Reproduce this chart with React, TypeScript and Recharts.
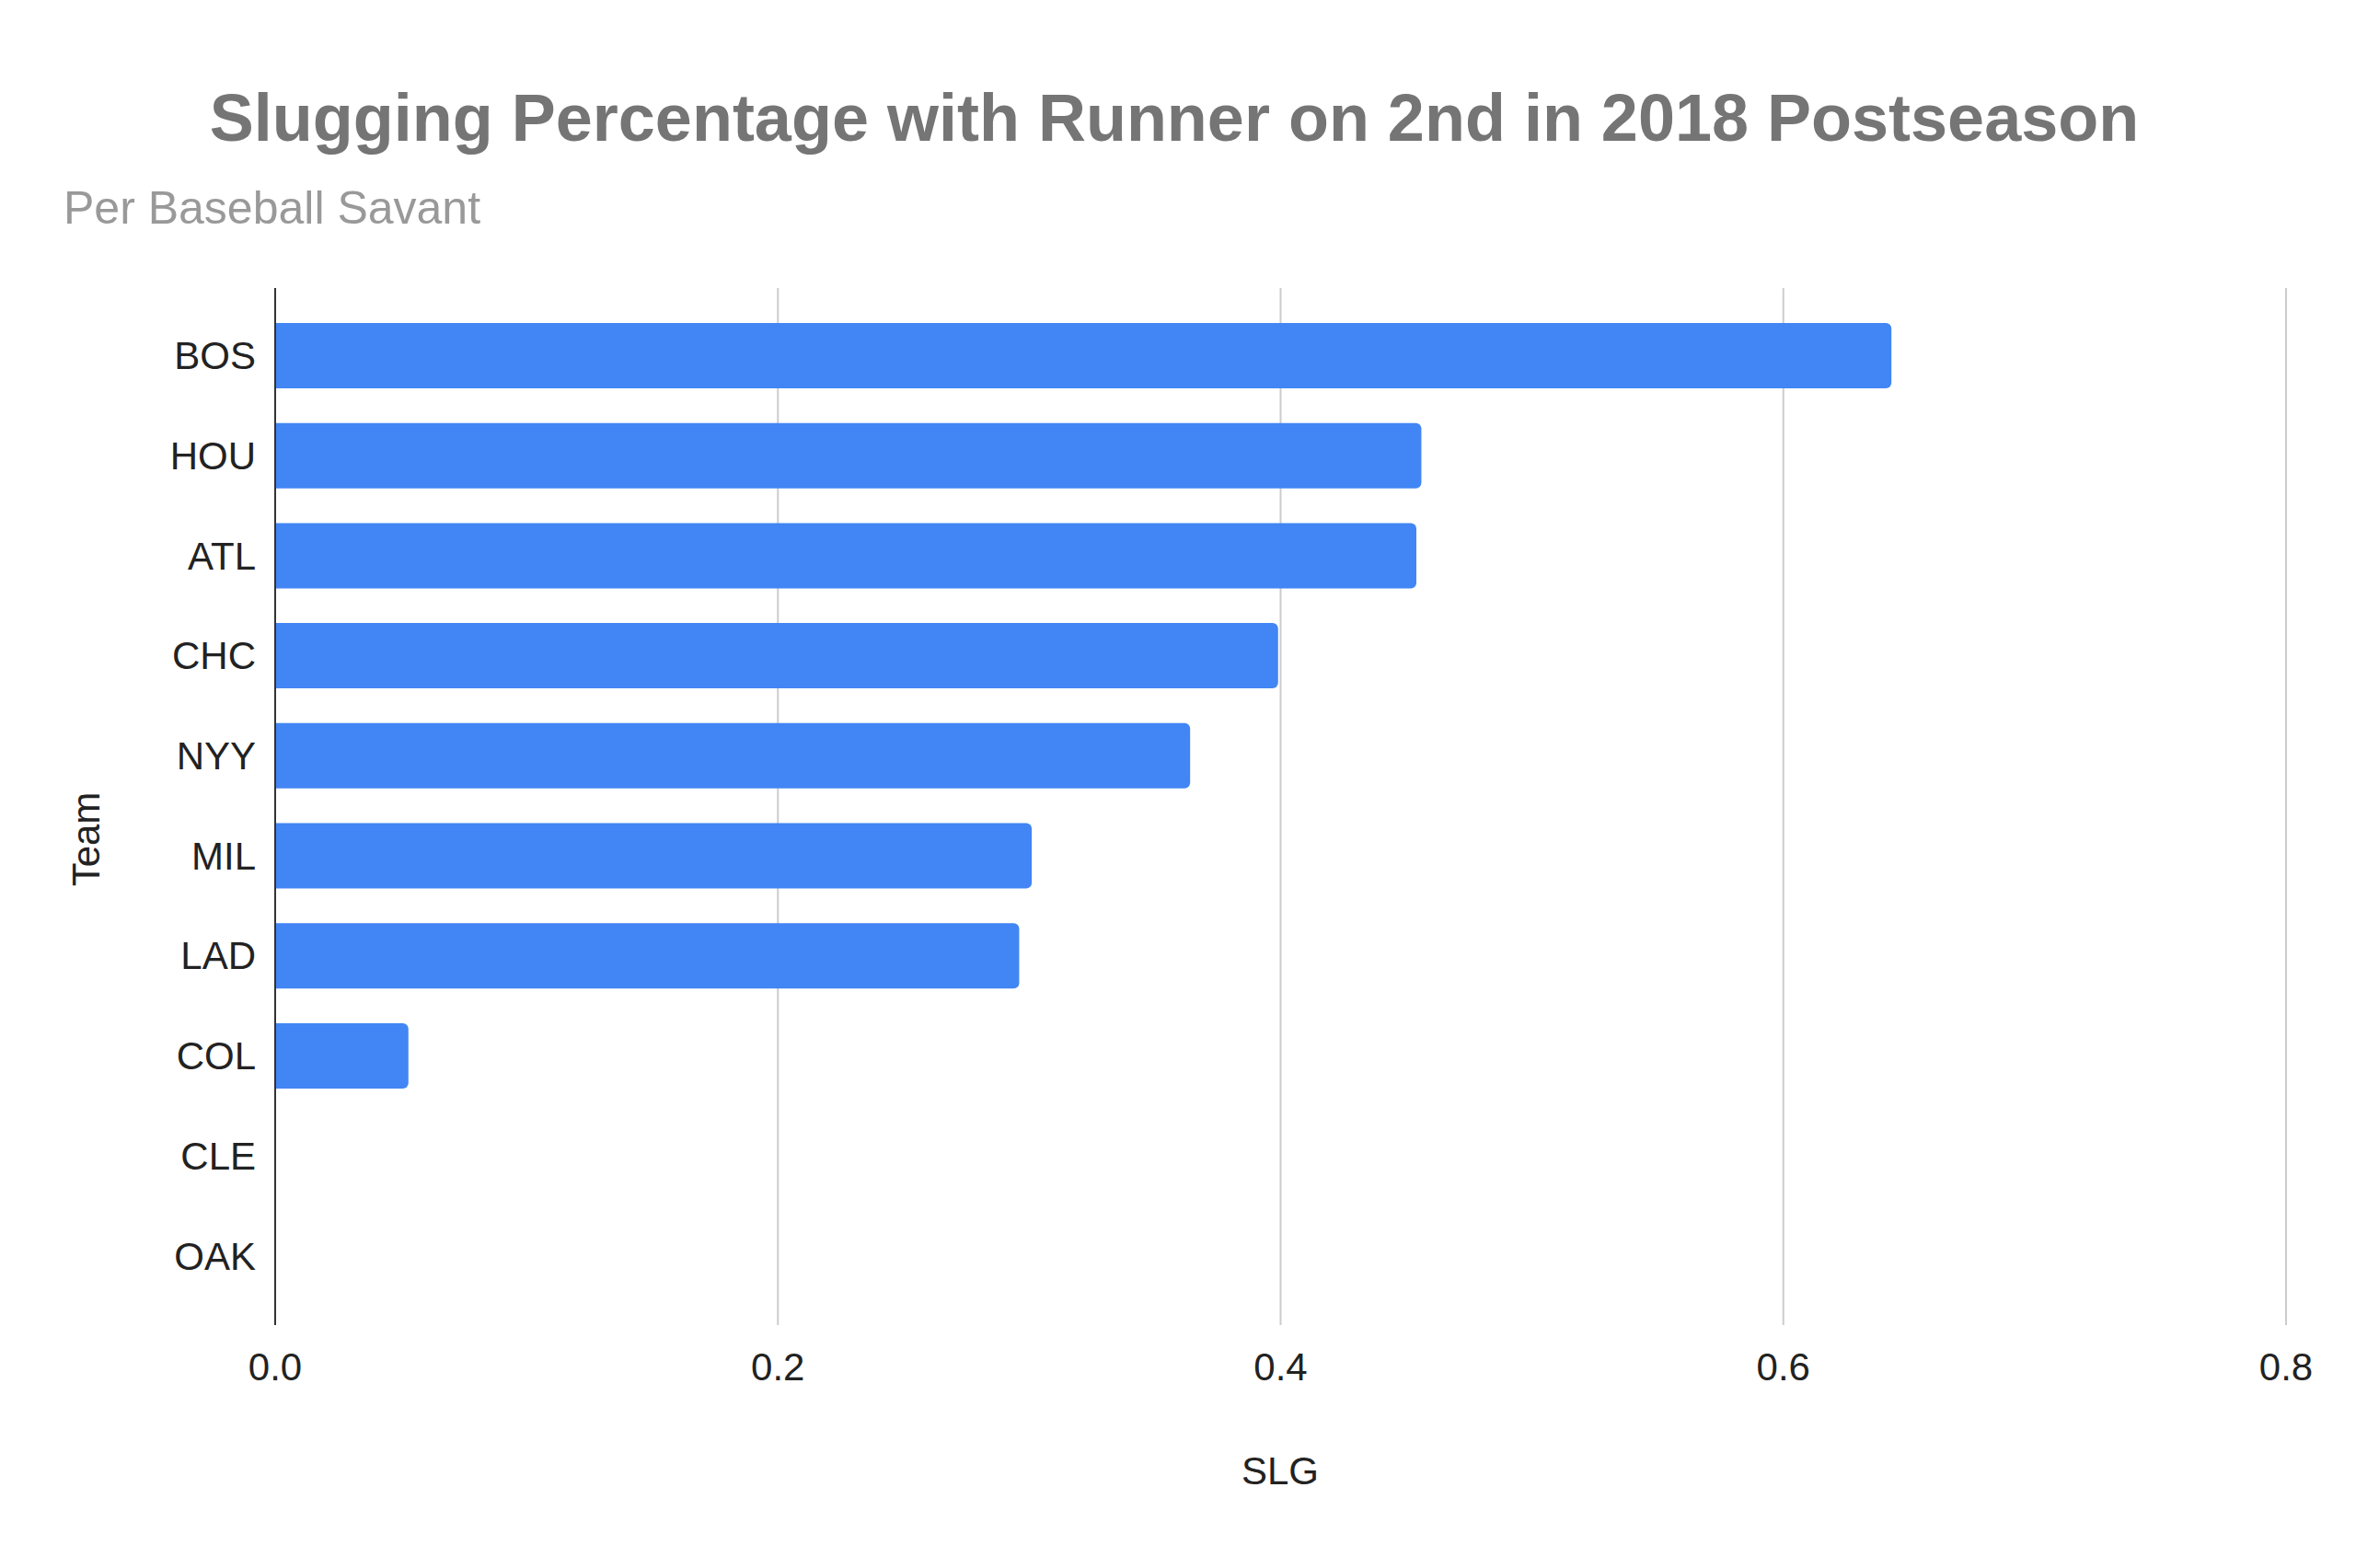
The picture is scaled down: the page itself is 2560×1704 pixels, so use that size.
import React from 'react';
import { BarChart, Bar, XAxis, YAxis, CartesianGrid } from 'recharts';

const teams = ['BOS', 'HOU', 'ATL', 'CHC', 'NYY', 'MIL', 'LAD', 'COL', 'CLE', 'OAK'];
const slgValues = [0.643, 0.456, 0.454, 0.399, 0.364, 0.301, 0.296, 0.053, 0, 0];
const xTicks = [0, 0.2, 0.4, 0.6, 0.8];

const titleText = 'Slugging Percentage with Runner on 2nd in 2018 Postseason';
const subtitleText = 'Per Baseball Savant';
const xAxisTitle = 'SLG';
const yAxisTitle = 'Team';

const FONT = "Arial, 'Liberation Sans', Helvetica, sans-serif";

const data = teams.map((team, i) => ({ team, slg: slgValues[i] }));

const renderXTitle = () => (
  <text x={1391} y={1613} textAnchor="middle" fontSize={42} fill="#222222" fontFamily={FONT}>
    {xAxisTitle}
  </text>
);

const renderYTitle = () => (
  <text
    x={108}
    y={912}
    transform="rotate(-90, 108, 912)"
    textAnchor="middle"
    fontSize={42}
    fill="#222222"
    fontFamily={FONT}
  >
    {yAxisTitle}
  </text>
);

export default function App() {
  return (
    <div style={{ position: 'absolute', left: 0, top: 0, width: 2560, height: 1704, background: '#ffffff' }}>
      <BarChart
        width={2560}
        height={1704}
        data={data}
        layout="vertical"
        margin={{ top: 313, right: 76, left: 0, bottom: 86 }}
      >
        <CartesianGrid horizontal={false} stroke="#cccccc" strokeWidth={2} />
        <XAxis
          type="number"
          domain={[0, 0.8]}
          ticks={xTicks}
          tickFormatter={(v: number) => v.toFixed(1)}
          axisLine={false}
          tickLine={false}
          tickSize={0}
          tickMargin={30}
          height={178}
          tick={{ fontSize: 42, fill: '#222222', fontFamily: FONT }}
          label={renderXTitle}
        />
        <YAxis
          type="category"
          dataKey="team"
          width={299}
          interval={0}
          tickSize={0}
          tickMargin={21}
          tickLine={false}
          axisLine={{ stroke: '#333333', strokeWidth: 2 }}
          padding={{ top: 19, bottom: 21 }}
          tick={{ fontSize: 42, fill: '#222222', fontFamily: FONT }}
          label={renderYTitle}
        />
        <Bar dataKey="slg" fill="#4285f4" barSize={71} radius={[0, 6, 6, 0]} isAnimationActive={false} />
      </BarChart>
      <svg
        width={2560}
        height={300}
        style={{ position: 'absolute', left: 0, top: 0, pointerEvents: 'none' }}
      >
        <text x={1276} y={153} textAnchor="middle" fontSize={72} fontWeight="bold" fill="#757575" fontFamily={FONT}>
          {titleText}
        </text>
        <text x={69} y={243} textAnchor="start" fontSize={50} fill="#999999" fontFamily={FONT}>
          {subtitleText}
        </text>
      </svg>
    </div>
  );
}
